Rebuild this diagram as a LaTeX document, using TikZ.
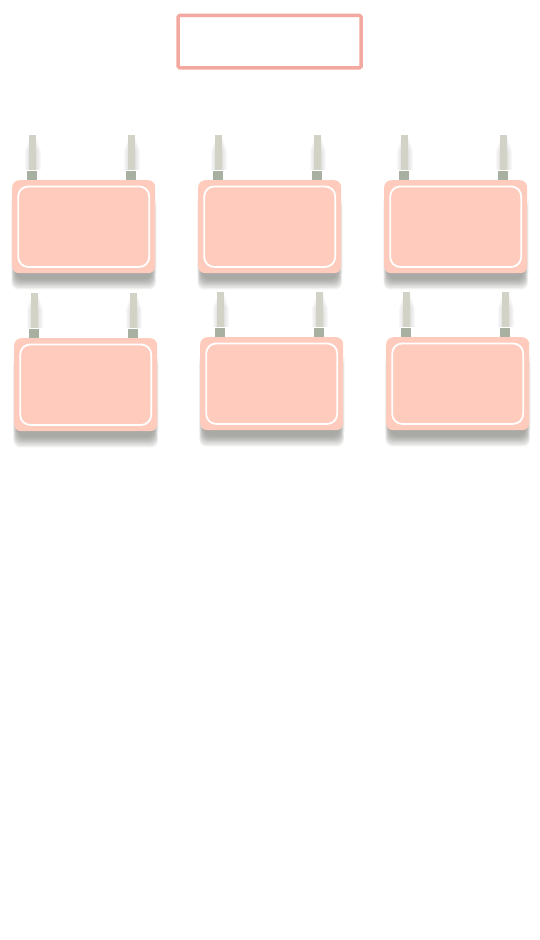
\documentclass[tikz,border=0pt]{standalone}
\usepackage{tikz}
\usetikzlibrary{calc, positioning, backgrounds}

\definecolor{routerpink}{HTML}{FECBBD}
\definecolor{titlered}{HTML}{F4A9A0}
\definecolor{stalkgray}{HTML}{D2D3C6}
\definecolor{basegray}{HTML}{A8B0A2}
\definecolor{shadowgray}{HTML}{8E8F8A}

\tikzset{
  titlebox/.style={draw=titlered, line width=0.035cm, rounded corners=0.015cm, minimum width=1.83cm, minimum height=0.523cm, inner sep=0pt},
  routerbox/.style={fill=routerpink, rounded corners=0.07cm, minimum width=1.43cm, minimum height=0.93cm, inner sep=0pt, anchor=north west},
  routerinner/.style={draw=white, line width=0.018cm, rounded corners=0.1cm, minimum width=1.31cm, minimum height=0.805cm, inner sep=0pt},
  antbase/.style={fill=basegray, minimum width=0.1cm, minimum height=0.09cm, inner sep=0pt, anchor=south},
  antstalk/.style={fill=stalkgray, minimum width=0.07cm, minimum height=0.35cm, inner sep=0pt, outer sep=0pt},
  softshadow/.style={fill=shadowgray, fill opacity=0.135},
  softstalk/.style={fill=shadowgray, fill opacity=0.06}
}

\begin{document}
\begin{tikzpicture}[y=-1cm]
  \useasboundingbox (0,0) rectangle (5.4,9.4);

  \node[titlebox] (title) at (2.697,0.416) {};

  \foreach \n/\x/\y in {a/0.115/1.795, b/1.975/1.795, c/3.835/1.795, d/0.135/3.375, e/1.995/3.365, f/3.855/3.365} {
    \node[routerbox] (r\n) at (\x,\y) {};
    \node[routerinner] (i\n) at (r\n) {};
    \node[antbase] (bl\n) at ([xshift=0.207cm, yshift=-0.01cm]r\n.north west) {};
    \node[antbase] (br\n) at ([xshift=1.198cm, yshift=-0.01cm]r\n.north west) {};
    \node[antstalk, above=0pt of bl\n] (sl\n) {};
    \node[antstalk, above=0pt of br\n] (sr\n) {};
    % blurred shadows go behind everything
    \begin{scope}[on background layer]
      \foreach \i/\b in {0.05/0.05, 0.042/0.06, 0.035/0.07, 0.03/0.08, 0.025/0.09, 0.02/0.10, 0.015/0.11, 0.01/0.125, 0.005/0.14, 0/0.155} {
        \fill[softshadow, rounded corners=0.07cm] ($(r\n.north west)+(\i,0.2)$) rectangle ($(r\n.south east)+(-\i,\b)$);
      }
      \fill[softstalk] ($(r\n.north west)+(-0.006,0.2)$) rectangle ($(r\n.south east)+(0.006,0)$);
      \foreach \s in {sl\n, sr\n} {
        \foreach \o/\t in {0.005/0.03, 0.015/0.06, 0.025/0.09, 0.035/0.12, 0.045/0.15} {
          \fill[softstalk] ($(\s.north west)+(0.005-\o,\t)$) rectangle ($(\s.south east)+(0.005+\o,0)$);
        }
      }
    \end{scope}
  }
\end{tikzpicture}
\end{document}
